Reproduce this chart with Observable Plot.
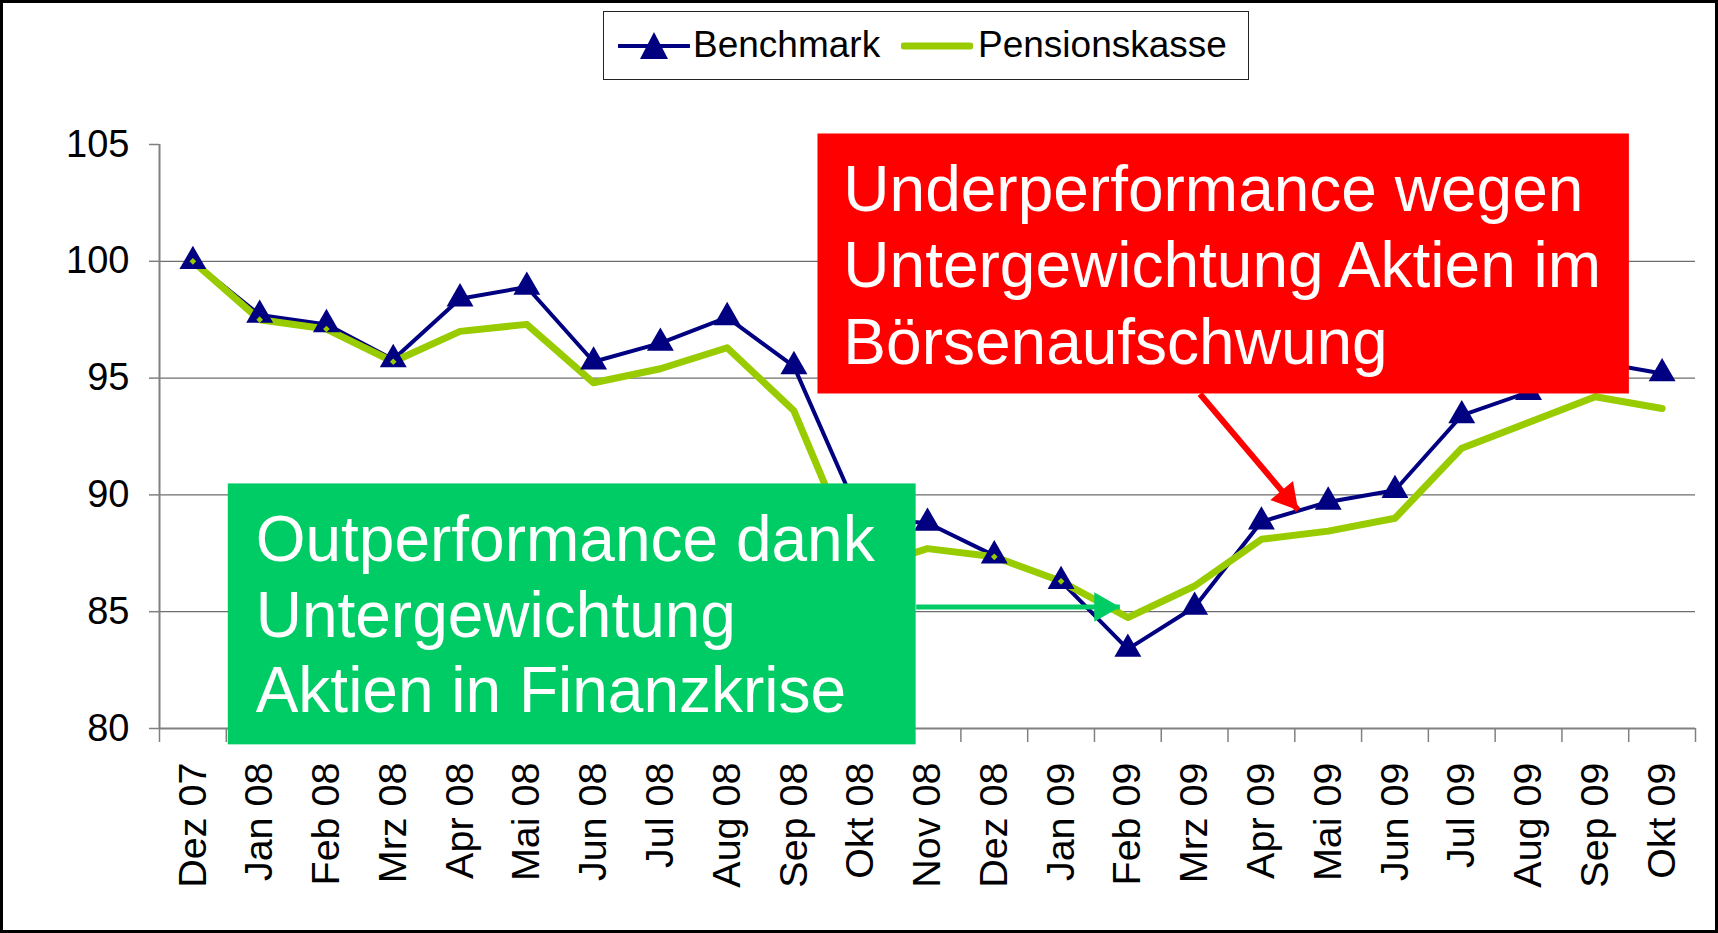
<!DOCTYPE html>
<html><head><meta charset="utf-8">
<script src="https://cdn.jsdelivr.net/npm/d3@7"></script>
<script src="https://cdn.jsdelivr.net/npm/@observablehq/plot@0.6"></script>
<style>
html,body{margin:0;padding:0;background:#fff;}
#wrap{position:relative;width:1718px;height:933px;overflow:hidden;font-family:"Liberation Sans",Arial,sans-serif;background:#fff;}
#frame{position:absolute;left:0;top:0;width:1718px;height:933px;box-sizing:border-box;border:3px solid #000;pointer-events:none;}
#legend{position:absolute;left:603px;top:11px;width:646px;height:69px;box-sizing:border-box;border:1.5px solid #222;background:#fff;}
.li{position:absolute;top:0;height:66px;display:flex;align-items:center;font-size:37px;color:#000;white-space:nowrap;}
.sw{position:absolute;top:19px;}
#chart{position:absolute;left:0;top:100px;}
</style>
</head><body>
<div id="wrap">
  <div id="chart"></div>
  <div id="legend"></div>
  <div id="frame"></div>
</div>
<script>
// ---- data ----
const months = ["Dez 07","Jan 08","Feb 08","Mrz 08","Apr 08","Mai 08","Jun 08","Jul 08","Aug 08","Sep 08","Okt 08","Nov 08","Dez 08","Jan 09","Feb 09","Mrz 09","Apr 09","Mai 09","Jun 09","Jul 09","Aug 09","Sep 09","Okt 09"];
const benchmark = [100, 97.7, 97.3, 95.8, 98.4, 98.9, 95.7, 96.5, 97.6, 95.5, 89.0, 88.8, 87.4, 86.3, 83.4, 85.2, 88.85, 89.7, 90.2, 93.4, 94.4, 95.7, 95.2];
const pension   = [100, 97.5, 97.1, 95.7, 97.0, 97.3, 94.8, 95.4, 96.3, 93.6, 86.8, 87.7, 87.35, 86.3, 84.75, 86.1, 88.1, 88.45, 89.0, 92.0, 93.1, 94.2, 93.7];
const seriesNames = ["Benchmark", "Pensionskasse"];
const yTicks = [80, 85, 90, 95, 100, 105];
const gridValues = [85, 90, 95, 100];

// annotations (in data coordinates: x = month index, y = index value)
const redNote = ["Underperformance wegen", "Untergewichtung Aktien im", "Börsenaufschwung"];
const greenNote = ["Outperformance dank", "Untergewichtung", "Aktien in Finanzkrise"];
const redBox = {x1: 9.36, x2: 21.51, y1: 94.32, y2: 105.45};
const greenBox = {x1: 0.53, x2: 10.83, y1: 79.3, y2: 90.47};
const redText = {x: 9.74, y: 104.48};
const greenText = {x: 0.94, y: 89.46};
const redArrow = {x1: 15.08, y1: 94.32, x2: 16.55, y2: 89.35};
const greenArrow = {x1: 10.83, y1: 85.2, x2: 13.88, y2: 85.2};

const C_BENCH = "#000080", C_PENS = "#99CC00", C_RED = "#FF0000", C_GREEN = "#00CC66";
const FONT = '"Liberation Sans", Arial, sans-serif';

const rows = months.map((m, i) => ({i, m, b: benchmark[i], p: pension[i]}));
const boundaries = d3.range(months.length + 1).map(k => k - 0.5);

const chart = Plot.plot({
  width: 1718, height: 833,
  marginLeft: 159, marginRight: 23, marginTop: 44, marginBottom: 205,
  x: {domain: [-0.5, months.length - 0.5], axis: null},
  y: {domain: [80, 105], axis: null},
  style: {fontFamily: FONT, background: "transparent", color: "#000"},
  marks: [
    Plot.ruleY(gridValues, {stroke: "#6e6e6e", strokeWidth: 1.2}),
    Plot.axisY(yTicks, {anchor: "left", label: null, tickSize: 10, tickPadding: 20, fontSize: 38, stroke: "#808080", strokeWidth: 1.5, fill: "#000"}),
    Plot.ruleX([-0.5], {y1: 80, y2: 105, stroke: "#808080", strokeWidth: 2}),
    Plot.axisX(boundaries, {anchor: "bottom", label: null, tickSize: 14, tickFormat: () => "", stroke: "#808080", strokeWidth: 1.5}),
    Plot.axisX(d3.range(months.length), {anchor: "bottom", label: null, tickSize: 0, tickPadding: 34, tickRotate: -90, tickFormat: i => months[i], fontSize: 39.5, fill: "#000"}),
    Plot.ruleY([80], {stroke: "#808080", strokeWidth: 2}),
    Plot.line(rows, {x: "i", y: "b", stroke: C_BENCH, strokeWidth: 4, strokeLinejoin: "round"}),
    Plot.line(rows, {x: "i", y: "p", stroke: C_PENS, strokeWidth: 7, strokeLinejoin: "round", strokeLinecap: "round"}),
    Plot.dot(rows, {x: "i", y: "b", symbol: "triangle", r: 10, fill: C_BENCH, stroke: "none"}),
    Plot.dot(rows, {x: "i", y: "p", symbol: "diamond2", r: 3, fill: C_PENS, stroke: "none"}),
    // annotations
    Plot.rect([redBox], {x1: "x1", x2: "x2", y1: "y1", y2: "y2", fill: C_RED}),
    Plot.text([redNote.join("\n")], {x: redText.x, y: redText.y, text: d => d, textAnchor: "start", lineAnchor: "top", lineHeight: 1.195, fontSize: 64, fill: "#fff"}),
    Plot.link([redArrow], {x1: "x1", y1: "y1", x2: "x2", y2: "y2", stroke: C_RED, strokeWidth: 6}),
    Plot.dot([redArrow], {x: "x2", y: "y2", symbol: "triangle", r: 11, rotate: 140, dx: -11, dy: -13, fill: C_RED, stroke: "none"}),
    Plot.rect([greenBox], {x1: "x1", x2: "x2", y1: "y1", y2: "y2", fill: C_GREEN}),
    Plot.text([greenNote.join("\n")], {x: greenText.x, y: greenText.y, text: d => d, textAnchor: "start", lineAnchor: "top", lineHeight: 1.18, fontSize: 64, fill: "#fff"}),
    Plot.link([greenArrow], {x1: "x1", y1: "y1", x2: "x2", y2: "y2", stroke: C_GREEN, strokeWidth: 5}),
    Plot.dot([greenArrow], {x: "x2", y: "y2", symbol: "triangle", r: 11, rotate: 90, dx: -17, fill: C_GREEN, stroke: "none"})
  ]
});
document.getElementById("chart").appendChild(chart);

// legend
const legend = document.getElementById("legend");
legend.innerHTML = `
  <svg class="sw" style="left:14px" width="72" height="30" viewBox="0 0 72 30">
    <line x1="1" y1="15" x2="71" y2="15" stroke="${C_BENCH}" stroke-width="4" stroke-linecap="round"/>
    <polygon points="36,1 50,28 22,28" fill="${C_BENCH}"/>
  </svg>
  <div class="li" style="left:89px">${seriesNames[0]}</div>
  <svg class="sw" style="left:297px" width="72" height="30" viewBox="0 0 72 30">
    <line x1="3" y1="15" x2="69" y2="15" stroke="${C_PENS}" stroke-width="7" stroke-linecap="round"/>
  </svg>
  <div class="li" style="left:374px">${seriesNames[1]}</div>
`;
</script>
</body></html>
